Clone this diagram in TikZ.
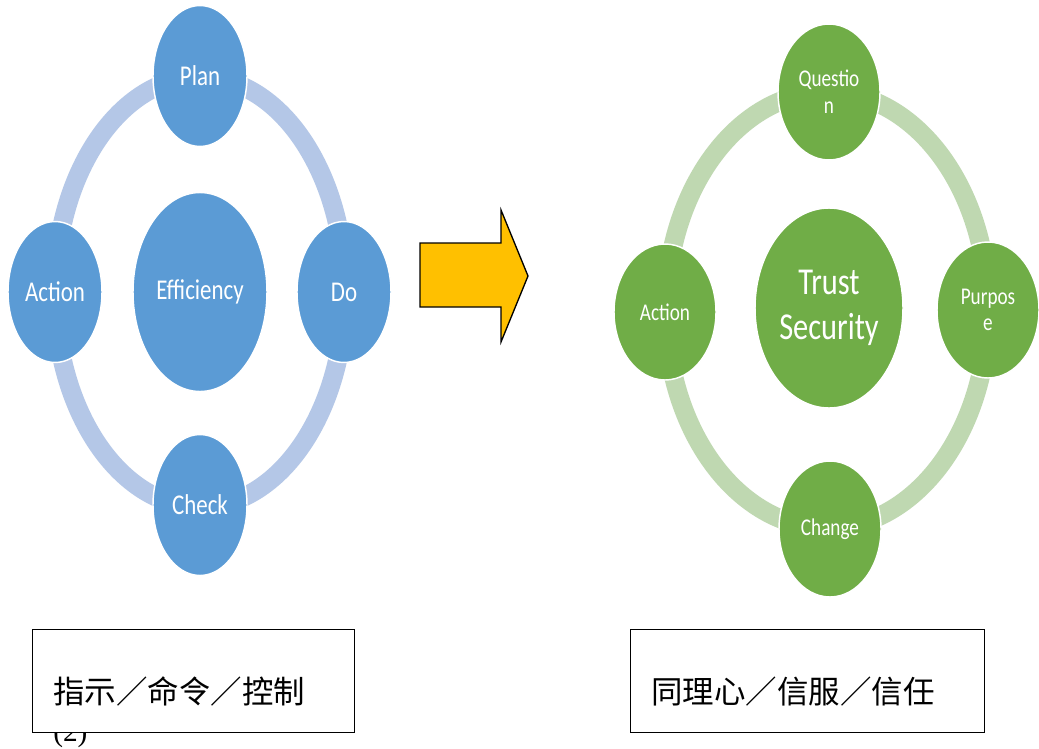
\documentclass[tikz,border=0pt]{standalone}
\usepackage{fontspec}
\usepackage{tikz}
\usetikzlibrary{positioning,calc,backgrounds,shapes.geometric}
\newfontfamily\nodefont[FakeStretch=0.8]{Carlito}
\newfontfamily\cjkfont{Noto Sans CJK TC}
\newfontfamily\numfont{Liberation Serif}
\definecolor{pdcablue}{HTML}{5B9BD5}
\definecolor{pdcaring}{HTML}{B4C7E7}
\definecolor{leafgreen}{HTML}{70AD47}
\definecolor{leafring}{HTML}{BFD8B1}
\definecolor{amber}{HTML}{FFC000}
\tikzset{
  stage/.style={ellipse,inner sep=0pt,draw=white,line width=1.1pt,text=white,align=center},
  bluestage/.style={stage,fill=pdcablue,minimum width=70.5pt,minimum height=105.75pt,
    font={\nodefont\fontsize{21.5pt}{25pt}\selectfont}},
  bluehub/.style={stage,fill=pdcablue,minimum width=100.5pt,minimum height=149.25pt,
    font={\nodefont\fontsize{21.5pt}{25pt}\selectfont}},
  greenstage/.style={stage,fill=leafgreen,minimum width=76.5pt,minimum height=102pt,
    font={\nodefont\fontsize{18pt}{20pt}\selectfont}},
  greenhub/.style={stage,fill=leafgreen,minimum width=111pt,minimum height=150pt,
    font={\nodefont\fontsize{28.5pt}{34pt}\selectfont}},
  ring/.style={line width=14.25pt},
  shiftarrow/.style={fill=amber,draw=black,line width=1pt,line join=miter},
  textbox/.style={draw=black,fill=white,line width=1.1pt,minimum height=77.25pt,inner sep=0pt},
  boxtext/.style={anchor=west,inner sep=0pt,font={\cjkfont\fontsize{23.6pt}{28pt}\selectfont}},
}

\begin{document}
\begin{tikzpicture}[x=0.75pt,y=-0.75pt]
  \useasboundingbox (0,0) rectangle (1039,749);
  \clip (0,0) rectangle (1039,749);

  % PDCA cycle
  \node[bluehub] (eff) at (200,292) {Efficiency};
  \node[bluestage] (plan) at (200,76) {Plan};
  \node[bluestage] (do) at (344,292) {Do};
  \node[bluestage] (check) at (200,505) {Check};
  \node[bluestage] (act) at (55,292) {Action};

  % the other cycle
  \node[greenhub] (trust) at (829,308) {Trust\\Security};
  \node[greenstage] (quest) at (829,92) {Questio\\n};
  \node[greenstage] (purp) at (988,310) {Purpos\\e};
  \node[greenstage] (change) at (830,529) {Change};
  \node[greenstage] (gact) at (665,312) {Action};

  \begin{scope}[on background layer]
    \fill[white] (0,0) rectangle (1039,749);
    \draw[ring,pdcaring] (eff.center) ellipse [x radius=108.75pt,y radius=161.25pt];
    \draw[ring,leafring] ($(trust.center)+(-2,2)$) ellipse [x radius=120.75pt,y radius=163.5pt];
  \end{scope}

  \draw[shiftarrow] (420,243) -- (501,243) -- (501,210) -- (528,276)
    -- (501,342) -- (501,307) -- (420,307) -- cycle;

  % captions
  \node[anchor=base west,inner sep=0pt,font={\numfont\fontsize{22pt}{26pt}\selectfont}] (fignum) at (53,741) {(2)};
  \node[textbox,minimum width=241.5pt,anchor=north west] (lbox) at (32,629) {};
  \node[boxtext] (ltext) at ($(lbox.west)+(21,10)$) {指示／命令／控制};
  \node[textbox,minimum width=265.5pt,anchor=north west] (rbox) at (630,629) {};
  \node[boxtext] (rtext) at ($(rbox.west)+(21,10)$) {同理心／信服／信任};
\end{tikzpicture}
\end{document}
